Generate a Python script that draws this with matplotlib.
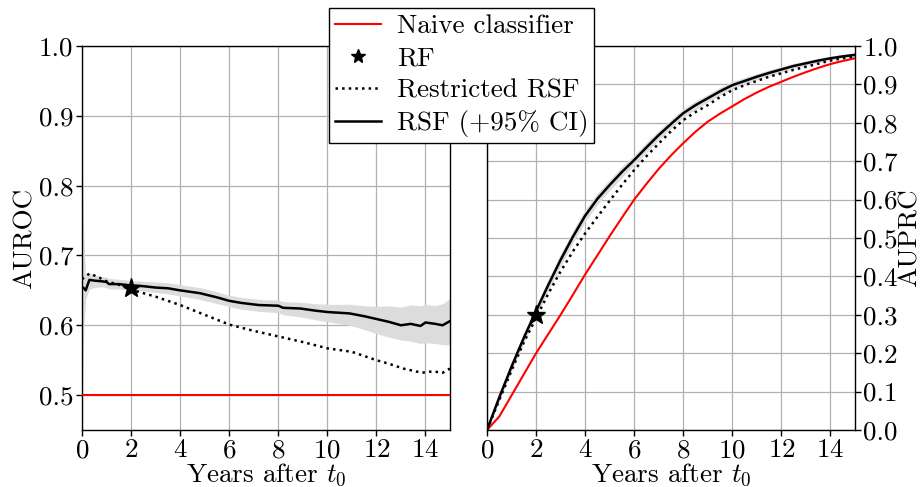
import matplotlib
matplotlib.use("Agg")
import matplotlib.pyplot as plt
import numpy as np

plt.rcParams.update({
    "font.family": "serif",
    "font.serif": ["cmr10"],
    "mathtext.fontset": "cm",
    "axes.unicode_minus": False,
    "axes.formatter.use_mathtext": True,
    "font.size": 19.5,
})

# ---- AUROC over time ----
t_roc = [0.0, 0.08, 0.15, 0.3, 0.5, 0.8, 1.0, 1.1, 1.5, 2.0, 2.5, 3.0, 3.5, 4.0,
         4.8, 5.5, 6.0, 6.5, 7.2, 8.0, 8.2, 8.9, 9.5, 10.0, 10.9, 11.5, 12.0,
         12.5, 13.0, 13.4, 13.8, 14.0, 14.4, 14.7, 15.0]
rsf_roc = [0.655, 0.653, 0.650, 0.665, 0.664, 0.663, 0.662, 0.659, 0.659, 0.657,
           0.656, 0.654, 0.653, 0.650, 0.646, 0.640, 0.635, 0.632, 0.629, 0.628,
           0.625, 0.624, 0.621, 0.619, 0.617, 0.613, 0.609, 0.605, 0.600, 0.602,
           0.599, 0.604, 0.602, 0.600, 0.606]
rsf_roc_lo = [0.48, 0.60, 0.638, 0.652, 0.654, 0.655, 0.654, 0.652, 0.652, 0.650,
              0.649, 0.647, 0.645, 0.642, 0.637, 0.631, 0.627, 0.623, 0.620, 0.618,
              0.615, 0.612, 0.608, 0.605, 0.600, 0.594, 0.588, 0.583, 0.579, 0.577,
              0.574, 0.575, 0.574, 0.572, 0.572]
rsf_roc_hi = [0.86, 0.72, 0.672, 0.675, 0.672, 0.670, 0.669, 0.667, 0.666, 0.664,
              0.663, 0.662, 0.661, 0.658, 0.654, 0.648, 0.643, 0.640, 0.637, 0.636,
              0.634, 0.633, 0.631, 0.630, 0.630, 0.628, 0.627, 0.628, 0.626, 0.629,
              0.628, 0.630, 0.628, 0.631, 0.638]

t_roc_r = [0.0, 0.3, 0.6, 1.0, 1.5, 2.0, 3.0, 4.0, 5.0, 6.0, 7.0, 8.0, 9.0, 10.0,
           11.0, 12.0, 12.5, 13.1, 13.85, 14.3, 14.7, 15.0]
rrsf_roc = [0.666, 0.674, 0.670, 0.663, 0.658, 0.651, 0.641, 0.629, 0.615, 0.601,
            0.592, 0.584, 0.576, 0.567, 0.562, 0.550, 0.545, 0.538, 0.532, 0.534,
            0.532, 0.538]

naive_roc = [0.5, 0.5]
t_naive = [0.0, 15.0]

rf_t = 2.0
rf_roc = 0.654

# ---- AUPRC over time ----
t_prc = [0.0, 0.5, 1.0, 1.5, 2.0, 2.5, 3.0, 3.5, 4.0, 4.5, 5.0, 5.5, 6.0, 6.5,
         7.0, 7.5, 8.0, 8.5, 9.0, 9.5, 10.0, 10.5, 11.0, 11.5, 12.0, 12.5, 13.0,
         13.5, 14.0, 14.5, 15.0]
rsf_prc = [0.0, 0.085, 0.165, 0.24, 0.31, 0.378, 0.443, 0.503, 0.558, 0.602,
           0.638, 0.672, 0.703, 0.736, 0.768, 0.797, 0.825, 0.846, 0.864, 0.882,
           0.898, 0.909, 0.920, 0.930, 0.939, 0.948, 0.955, 0.962, 0.968, 0.973,
           0.977]
rsf_prc_band = [0.0, 0.010, 0.012, 0.013, 0.014, 0.015, 0.016, 0.016, 0.016,
                0.015, 0.014, 0.014, 0.013, 0.013, 0.012, 0.012, 0.011, 0.011,
                0.010, 0.010, 0.009, 0.009, 0.008, 0.008, 0.007, 0.007, 0.006,
                0.006, 0.005, 0.005, 0.005]
rrsf_prc = [0.0, 0.078, 0.155, 0.228, 0.292, 0.355, 0.413, 0.465, 0.512, 0.555,
            0.597, 0.638, 0.677, 0.713, 0.746, 0.778, 0.807, 0.828, 0.846, 0.867,
            0.885, 0.898, 0.909, 0.920, 0.929, 0.938, 0.946, 0.954, 0.962, 0.968,
            0.973]
naive_prc = [0.0, 0.035, 0.09, 0.145, 0.20, 0.25, 0.30, 0.352, 0.405, 0.455,
             0.505, 0.553, 0.60, 0.641, 0.68, 0.715, 0.747, 0.777, 0.803, 0.824,
             0.843, 0.862, 0.879, 0.894, 0.907, 0.920, 0.932, 0.943, 0.953, 0.961,
             0.968]

rf_prc = 0.30

fig = plt.figure(figsize=(9.23, 4.87), dpi=100)
ax1 = fig.add_axes([82 / 923, 57 / 487, 368 / 923, 384 / 487])
ax2 = fig.add_axes([487 / 923, 57 / 487, 368 / 923, 384 / 487])

band_color = "#dcdcdc"
grid_kw = dict(color="#b0b0b0", linewidth=0.9)

# Left panel
ax1.fill_between(t_roc, rsf_roc_lo, rsf_roc_hi, color=band_color, linewidth=0, zorder=2)
h_naive, = ax1.plot(t_naive, naive_roc, color="red", linewidth=1.5, zorder=3)
h_rrsf, = ax1.plot(t_roc_r, rrsf_roc, color="black", linestyle=":", linewidth=1.8, zorder=4)
h_rsf, = ax1.plot(t_roc, rsf_roc, color="black", linewidth=1.8, zorder=5)
h_rf, = ax1.plot([rf_t], [rf_roc], linestyle="none", marker="*", color="black",
                 markersize=14, zorder=6)
ax1.set_xlim(0, 15)
ax1.set_ylim(0.45, 1.0)
ax1.set_xticks(np.arange(0, 15, 2))
ax1.set_yticks([0.5, 0.6, 0.7, 0.8, 0.9, 1.0])
ax1.set_ylabel("AUROC", labelpad=2)
ax1.set_xlabel(r"Years after $t_0$", labelpad=-1)
ax1.grid(True, **grid_kw)
ax1.set_axisbelow(True)

# Right panel
lo = np.array(rsf_prc) - np.array(rsf_prc_band)
hi = np.array(rsf_prc) + np.array(rsf_prc_band)
ax2.fill_between(t_prc, lo, hi, color=band_color, linewidth=0, zorder=2)
ax2.plot(t_prc, naive_prc, color="red", linewidth=1.5, zorder=3)
ax2.plot(t_prc, rrsf_prc, color="black", linestyle=":", linewidth=1.8, zorder=4)
ax2.plot(t_prc, rsf_prc, color="black", linewidth=1.8, zorder=5)
ax2.plot([rf_t], [rf_prc], linestyle="none", marker="*", color="black",
         markersize=14, zorder=6)
ax2.set_xlim(0, 15)
ax2.set_ylim(0.0, 1.0)
ax2.set_xticks(np.arange(0, 15, 2))
ax2.set_yticks(np.arange(0, 1.01, 0.1))
ax2.yaxis.tick_right()
ax2.yaxis.set_label_position("right")
ax2.set_ylabel("AUPRC", labelpad=0)
ax2.set_xlabel(r"Years after $t_0$", labelpad=-1)
ax2.grid(True, **grid_kw)
ax2.set_axisbelow(True)

for ax in (ax1, ax2):
    for s in ax.spines.values():
        s.set_linewidth(1.0)
        s.set_color("black")
    ax.tick_params(direction="out", length=4, width=1.0, pad=2)
    ax.yaxis.set_major_formatter(matplotlib.ticker.FormatStrFormatter("%.1f"))

leg = fig.legend([h_naive, h_rf, h_rrsf, h_rsf],
                 ["Naive classifier", "RF", "Restricted RSF", r"RSF (+95% CI)"],
                 loc="upper center", bbox_to_anchor=(0.5, 0.983),
                 fancybox=False, framealpha=1.0, edgecolor="black",
                 handlelength=1.7, borderpad=0.22, labelspacing=0.3,
                 handletextpad=0.6, borderaxespad=0.0, markerscale=0.75)
leg.get_frame().set_linewidth(1.0)
leg.set_zorder(10)

fig.savefig("out.png", dpi=100)
